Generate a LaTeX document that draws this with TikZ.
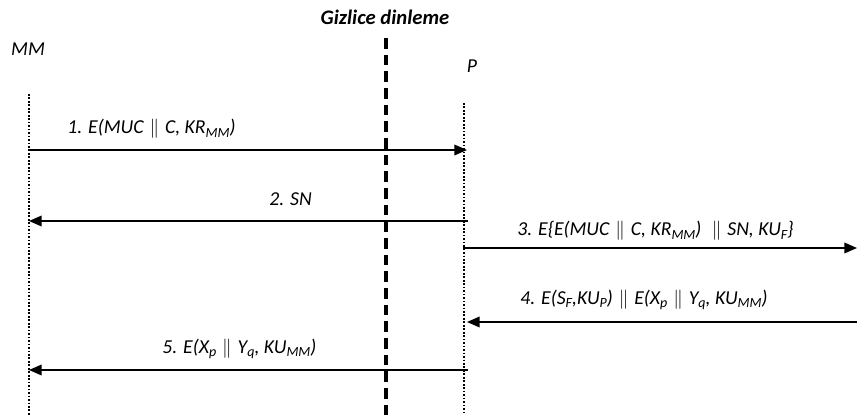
\documentclass[tikz,border=0pt]{standalone}
\usepackage{fontspec}
\setmainfont{Carlito}
\usetikzlibrary{arrows.meta}
\newcommand{\lo}[1]{\raisebox{-0.4ex}{\fontsize{10.5}{10.5}\selectfont #1}}
\newcommand{\dbar}{\hspace{0.3em}$\|$\hspace{0.3em}}
\begin{document}
\begin{tikzpicture}[x=0.75pt,y=-0.75pt,
  lbl/.style={font=\fontsize{14.8}{16}\selectfont\itshape, inner sep=0pt},
  msg/.style={line width=1.1pt, -{Triangle[length=9.5pt,width=8pt]}},
  life/.style={line width=0.9pt, dash pattern=on 1.3pt off 1.3pt},
  eaves/.style={line width=2.3pt, dash pattern=on 8pt off 4.5pt}]
\useasboundingbox (0,0) rectangle (857,416);
% titles
\node[lbl, font=\fontsize{15.5}{17}\selectfont\bfseries\itshape] (title) at (385,17) {Gizlice dinleme};
\node[lbl] (mm) at (28,49) {MM};
\node[lbl] (p) at (472,66) {P};
% lifelines
\coordinate (mmt) at (29,94);
\coordinate (mmb) at (29,416);
\coordinate (pt) at (464,103);
\coordinate (pb) at (464,412);
\coordinate (et) at (386,38);
\coordinate (eb) at (386,416);
\draw[life] (mmt) -- (mmb);
\draw[life] (pt) -- (pb);
\draw[eaves] (et) -- (eb);
% messages
\coordinate (a1) at (29,150); \coordinate (b1) at (467,150);
\coordinate (a2) at (468,221); \coordinate (b2) at (29,221);
\coordinate (a3) at (463,248); \coordinate (b3) at (857,248);
\coordinate (a4) at (857,322); \coordinate (b4) at (467,322);
\coordinate (a5) at (468,370); \coordinate (b5) at (29,370);
\draw[msg] (a1) -- (b1);
\draw[msg] (a2) -- (b2);
\draw[msg] (a3) -- (b3);
\draw[msg] (a4) -- (b4);
\draw[msg] (a5) -- (b5);
\node[lbl, anchor=west] (l1) at (67,129) {1. E(MUC\dbar C, KR\lo{MM})};
\node[lbl, anchor=west] (l2) at (269,199) {2. SN};
\node[lbl, anchor=west] (l3) at (517,231) {3. E\{E(MUC\dbar C, KR\lo{MM})\ \dbar SN, KU\lo{F}\}};
\node[lbl, anchor=west] (l4) at (520,300) {4. E(S\lo{F},KU\lo{P})\dbar E(X\lo{p}\dbar Y\lo{q}, KU\lo{MM})};
\node[lbl, anchor=west] (l5) at (162,349) {5. E(X\lo{p}\dbar Y\lo{q}, KU\lo{MM})};
\end{tikzpicture}
\end{document}
